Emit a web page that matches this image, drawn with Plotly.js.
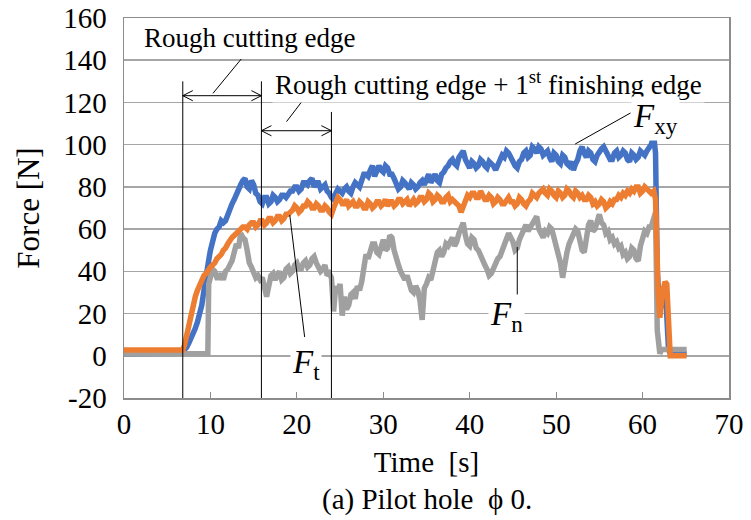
<!DOCTYPE html>
<html>
<head>
<meta charset="utf-8">
<script src="https://cdn.plot.ly/plotly-3.0.1.min.js"></script>
<style>html,body{margin:0;padding:0;background:#fff;}</style>
</head>
<body>
<div id="chart" style="width:751px;height:520px;"></div>
<script>
// ---- Data ----
// Sampling times for the cutting phase [s]
const tCore = [
  7.0, 7.25, 7.5, 7.75, 8.0, 8.25, 8.5, 8.75, 9.0, 9.25, 9.5, 9.75, 10.0, 10.25, 10.5, 10.75, 11.0, 11.25, 11.5, 11.75,
  12.0, 12.25, 12.5, 12.75, 13.0, 13.25, 13.5, 13.75, 14.0, 14.25, 14.5, 14.75, 15.0, 15.25, 15.5, 15.75, 16.0, 16.25, 16.5, 16.75,
  17.0, 17.25, 17.5, 17.75, 18.0, 18.25, 18.5, 18.75, 19.0, 19.25, 19.5, 19.75, 20.0, 20.25, 20.5, 20.75, 21.0, 21.25, 21.5, 21.75,
  22.0, 22.25, 22.5, 22.75, 23.0, 23.25, 23.5, 23.75, 24.0, 24.25, 24.5, 24.75, 25.0, 25.25, 25.5, 25.75, 26.0, 26.25, 26.5, 26.75,
  27.0, 27.25, 27.5, 27.75, 28.0, 28.25, 28.5, 28.75, 29.0, 29.25, 29.5, 29.75, 30.0, 30.25, 30.5, 30.75, 31.0, 31.25, 31.5, 31.75,
  32.0, 32.25, 32.5, 32.75, 33.0, 33.25, 33.5, 33.75, 34.0, 34.25, 34.5, 34.75, 35.0, 35.25, 35.5, 35.75, 36.0, 36.25, 36.5, 36.75,
  37.0, 37.25, 37.5, 37.75, 38.0, 38.25, 38.5, 38.75, 39.0, 39.25, 39.5, 39.75, 40.0, 40.25, 40.5, 40.75, 41.0, 41.25, 41.5, 41.75,
  42.0, 42.25, 42.5, 42.75, 43.0, 43.25, 43.5, 43.75, 44.0, 44.25, 44.5, 44.75, 45.0, 45.25, 45.5, 45.75, 46.0, 46.25, 46.5, 46.75,
  47.0, 47.25, 47.5, 47.75, 48.0, 48.25, 48.5, 48.75, 49.0, 49.25, 49.5, 49.75, 50.0, 50.25, 50.5, 50.75, 51.0, 51.25, 51.5, 51.75,
  52.0, 52.25, 52.5, 52.75, 53.0, 53.25, 53.5, 53.75, 54.0, 54.25, 54.5, 54.75, 55.0, 55.25, 55.5, 55.75, 56.0, 56.25, 56.5, 56.75,
  57.0, 57.25, 57.5, 57.75, 58.0, 58.25, 58.5, 58.75, 59.0, 59.25, 59.5, 59.75, 60.0, 60.25, 60.5, 60.75, 61.0
];

// Fxy [N]
const fxyHeadT = [0, 6.8];
const fxyHead  = [1, 1.3];
const fxyCore = [
  3, 4, 6, 8, 10, 13, 16, 20, 24, 31, 36, 44, 50, 55, 58, 60, 61, 64, 63, 64,
  67, 70, 72, 74, 77, 80, 81, 83, 84, 80, 79, 83, 81, 77, 76, 73, 72, 75, 75, 72,
  73, 76, 75, 73, 74, 76, 76, 75, 77, 78, 78, 80, 80, 78, 79, 82, 82, 81, 83, 84,
  80, 82, 82, 79, 80, 81, 78, 77, 75, 74, 77, 79, 78, 77, 79, 80, 78, 77, 80, 82,
  81, 80, 83, 86, 86, 85, 88, 90, 85, 87, 90, 88, 87, 90, 89, 86, 86, 84, 81, 79,
  80, 83, 82, 80, 79, 82, 81, 79, 80, 82, 83, 81, 84, 86, 82, 84, 86, 83, 82, 86,
  87, 89, 90, 92, 93, 91, 90, 94, 96, 97, 93, 90, 89, 92, 91, 89, 90, 93, 92, 90,
  89, 92, 91, 90, 88, 91, 92, 95, 94, 97, 96, 93, 92, 90, 89, 92, 93, 96, 97, 94,
  95, 99, 98, 96, 99, 98, 95, 96, 97, 94, 92, 96, 95, 92, 91, 95, 94, 91, 90, 92,
  88, 91, 93, 97, 99, 96, 94, 97, 96, 93, 92, 95, 97, 98, 99, 96, 95, 93, 93, 96,
  97, 94, 95, 97, 96, 93, 92, 96, 95, 93, 94, 97, 96, 95, 97, 99, 100
];
const fxyTailT = [61.3, 61.5, 61.7, 62.0, 62.4, 62.7, 63.0, 63.2, 65.1];
const fxyTail  = [104, 96, 40, 22, 26, 27, 3, 1, 1];

// Ft [N]
const ftHeadT = [0, 6.8];
const ftHead  = [2.7, 2.7];
const ftCore = [
  5, 10, 15, 20, 24, 28, 31, 34, 36, 38, 39, 41, 42, 43, 44, 46, 47, 48, 50, 51,
  53, 55, 56, 57, 58, 59, 60, 61, 61, 60, 62, 63, 63, 61, 62, 64, 64, 62, 63, 65,
  65, 63, 64, 66, 66, 64, 65, 67, 67, 68, 69, 71, 70, 68, 69, 71, 71, 73, 72, 70,
  70, 72, 71, 69, 69, 71, 70, 68, 67, 70, 72, 75, 74, 72, 72, 74, 71, 72, 73, 71,
  71, 73, 72, 70, 70, 73, 72, 70, 71, 73, 73, 71, 72, 74, 71, 73, 73, 71, 72, 74,
  74, 72, 73, 74, 71, 73, 74, 72, 73, 75, 75, 73, 74, 77, 76, 73, 74, 76, 75, 73,
  73, 75, 76, 73, 74, 73, 72, 71, 68, 71, 73, 76, 75, 77, 77, 75, 75, 78, 76, 74,
  74, 76, 75, 72, 73, 75, 74, 72, 72, 74, 75, 73, 73, 71, 72, 75, 74, 72, 71, 73,
  74, 77, 76, 75, 77, 78, 79, 77, 76, 79, 78, 76, 75, 78, 77, 75, 76, 79, 78, 76,
  75, 78, 77, 75, 76, 74, 74, 76, 75, 72, 73, 71, 72, 74, 73, 70, 71, 73, 72, 74,
  74, 76, 75, 77, 76, 78, 77, 79, 78, 80, 80, 77, 78, 80, 79, 78, 77
];
const ftTailT = [61.3, 61.5, 61.8, 62.0, 62.3, 62.6, 62.8, 63.0, 63.2, 65.1];
const ftTail  = [78, 74, 30, 18, 30, 35, 34, 8, 0, 0];

// Fn [N]  (core from 10.0 s to 61.0 s on the same 0.25 s grid)
const fnHeadT = [0, 9.7, 9.8];
const fnHead  = [1, 1, 34];
const fnCore = [
  38, 41, 40, 37, 37, 39, 36, 40, 41, 43, 45, 49, 53, 51, 58, 56, 55, 50, 44, 42,
  40, 37, 38, 36, 37, 33, 28, 33, 38, 39, 36, 38, 40, 36, 37, 41, 42, 39, 40, 43,
  44, 41, 41, 44, 45, 42, 43, 46, 47, 44, 42, 40, 41, 43, 38, 39, 37, 21, 33, 30,
  34, 19, 28, 22, 24, 29, 30, 27, 33, 31, 35, 42, 48, 46, 50, 53, 53, 49, 48, 52,
  55, 50, 51, 57, 56, 50, 45, 43, 40, 37, 36, 38, 34, 31, 30, 33, 31, 26, 17, 32,
  34, 37, 36, 41, 46, 49, 50, 47, 49, 53, 52, 55, 56, 52, 54, 58, 60, 63, 57, 53,
  52, 56, 55, 51, 50, 47, 46, 43, 41, 38, 39, 42, 43, 46, 47, 50, 52, 55, 58, 56,
  54, 50, 51, 55, 57, 60, 62, 59, 61, 63, 64, 66, 60, 57, 56, 59, 58, 61, 60, 56,
  52, 49, 44, 37, 44, 49, 53, 56, 57, 60, 59, 54, 50, 49, 56, 62, 64, 59, 60, 65,
  67, 63, 62, 58, 59, 55, 56, 53, 54, 51, 52, 48, 49, 46, 47, 51, 50, 46, 45, 52,
  56, 59, 58, 61, 61
];
const fnTailT = [61.25, 61.5, 61.7, 62.0, 62.2, 65.1];
const fnTail  = [64, 68, 12, 1, 3, 3];

// Axis ticks
const xTicks = [0, 10, 20, 30, 40, 50, 60, 70];
const yTicks = [-20, 0, 20, 40, 60, 80, 100, 120, 140, 160];

// Stage markers [s] (vertical reference lines)
const stageTimes = [6.8, 15.9, 24.0];
const stageTops  = [130, 130, 115.5];

// ---- Styling ----
const SERIF = '"Liberation Serif", "Times New Roman", Times, serif';
const C_BLUE = '#4472C4', C_ORANGE = '#ED7D31', C_GRAY = '#A0A0A0';
const LW = 5.5;

const fnT = fnHeadT.concat(tCore.slice(tCore.indexOf(10.0)), fnTailT);
const traces = [
  {x: fxyHeadT.concat(tCore, fxyTailT), y: fxyHead.concat(fxyCore, fxyTail),
   type: 'scatter', mode: 'lines', name: 'Fxy', line: {color: C_BLUE, width: LW}},
  {x: fnT, y: fnHead.concat(fnCore, fnTail), type: 'scatter', mode: 'lines', name: 'Fn',
   line: {color: C_GRAY, width: LW}},
  {x: ftHeadT.concat(tCore, ftTailT), y: ftHead.concat(ftCore, ftTail),
   type: 'scatter', mode: 'lines', name: 'Ft', line: {color: C_ORANGE, width: LW}}
];

const shapes = [];
stageTimes.forEach((t, i) => {
  shapes.push({type: 'line', xref: 'x', yref: 'y', x0: t, x1: t, y0: -20, y1: stageTops[i],
               line: {color: '#000', width: 1}});
});
function dblArrow(xa, xb, y) {
  const hx = 1.16, hy = 2.4;
  return {type: 'path', xref: 'x', yref: 'y', line: {color: '#000', width: 1},
    path: `M ${xa},${y} L ${xb},${y} M ${xa+hx},${y+hy} L ${xa},${y} L ${xa+hx},${y-hy} ` +
          `M ${xb-hx},${y+hy} L ${xb},${y} L ${xb-hx},${y-hy}`};
}
shapes.push(dblArrow(stageTimes[0], stageTimes[1], 123.2));
shapes.push(dblArrow(stageTimes[1], stageTimes[2], 106.6));
function leader(x0, y0, x1, y1) {
  return {type: 'line', xref: 'x', yref: 'y', x0, y0, x1, y1, line: {color: '#000', width: 1}};
}
shapes.push(leader(13.57, 140.6, 10.29, 124.3));
shapes.push(leader(21.1, 123.2, 18.8, 110.9));
shapes.push(leader(58.6, 115, 52.2, 100.3));
shapes.push(leader(19.18, 66.7, 20.9, 8.9));
shapes.push(leader(45.5, 51.5, 45.5, 28.8));

const annotations = [
  {x: 14.54, y: 150.5, xref: 'x', yref: 'y', text: 'Rough cutting edge', showarrow: false,
   font: {family: SERIF, size: 27, color: '#000'}, bgcolor: '#fff'},
  {x: 42.2, y: 129.3, xref: 'x', yref: 'y',
   text: 'Rough cutting edge + 1<sup>st</sup> finishing edge', showarrow: false,
   font: {family: SERIF, size: 27, color: '#000'}, bgcolor: '#fff', borderpad: 2},
  {x: 61.5, y: 112.6, xref: 'x', yref: 'y', text: '<i>F</i><sub>xy</sub>', showarrow: false,
   font: {family: SERIF, size: 33, color: '#000'}, bgcolor: '#fff'},
  {x: 21.1, y: -4.3, xref: 'x', yref: 'y', text: '<i>F</i><sub>t</sub>', showarrow: false,
   font: {family: SERIF, size: 33, color: '#000'}, bgcolor: '#fff'},
  {x: 44.3, y: 18.5, xref: 'x', yref: 'y', text: '<i>F</i><sub>n</sub>', showarrow: false,
   font: {family: SERIF, size: 33, color: '#000'}, bgcolor: '#fff'},
  {x: 0.5, y: -0.268, xref: 'paper', yref: 'paper', xanchor: 'center', yanchor: 'middle',
   text: '(a) Pilot hole\u00a0 \u03D5 0.', showarrow: false,
   font: {family: SERIF, size: 29, color: '#000'}}
];

const layout = {
  width: 751, height: 520,
  margin: {l: 124, r: 22, t: 18, b: 122},
  paper_bgcolor: '#fff', plot_bgcolor: '#fff',
  showlegend: false,
  font: {family: SERIF, color: '#000', size: 28},
  xaxis: {range: [0, 70], tickvals: xTicks, ticktext: xTicks.map(String),
    ticks: 'inside', ticklen: 6, tickcolor: '#8c8c8c', tickwidth: 1,
    showgrid: false, showline: true, mirror: true, linecolor: '#8c8c8c', linewidth: 1.5,
    zeroline: false, tickfont: {family: SERIF, size: 29, color: '#000'},
    title: {text: 'Time\u00a0 [s]', font: {family: SERIF, size: 29, color: '#000'}, standoff: 12}},
  yaxis: {range: [-20, 160], tickvals: yTicks, ticktext: yTicks.map(String),
    ticks: '', showgrid: true, gridcolor: '#a6a6a6', gridwidth: 1.5,
    showline: true, mirror: true, linecolor: '#8c8c8c', linewidth: 1.5,
    zeroline: false, ticklabelstandoff: 10,
    tickfont: {family: SERIF, size: 29, color: '#000'},
    title: {text: 'Force [N]', font: {family: SERIF, size: 31, color: '#000'}, standoff: 14}},
  shapes: shapes,
  annotations: annotations
};

Plotly.newPlot('chart', traces, layout, {displayModeBar: false, staticPlot: true});
</script>
</body>
</html>
